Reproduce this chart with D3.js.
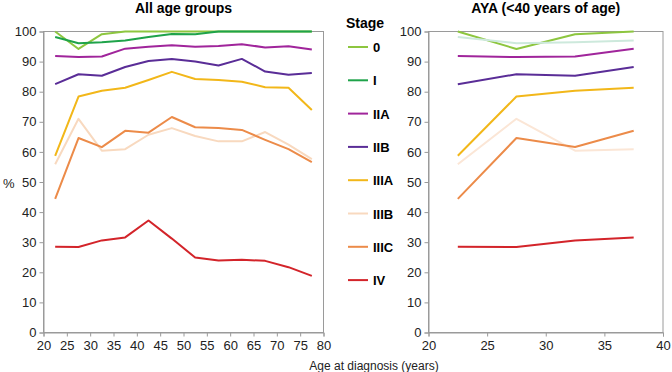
<!DOCTYPE html>
<html>
<head>
<meta charset="utf-8">
<script src="https://cdn.jsdelivr.net/npm/d3@7"></script>
<style>
body { margin: 0; background: #fff; }
svg { font-family: "Liberation Sans", Arial, sans-serif; }
</style>
</head>
<body>
<div id="chart"></div>
<script>
const ages = [22.5, 27.5, 32.5, 37.5, 42.5, 47.5, 52.5, 57.5, 62.5, 67.5, 72.5, 77.5];
const stages = ["0", "I", "IIA", "IIB", "IIIA", "IIIB", "IIIC", "IV"];
const colors = ["#8dc63f", "#1fa34a", "#a0259b", "#5a2d97", "#f2b719", "#f8d9bf", "#ec8b49", "#d3242a"];
// right panel shows stage I faded
const ayaColors = ["#8dc63f", "#cde9dc", "#a0259b", "#5a2d97", "#f2b719", "#fbe6d6", "#ec8b49", "#d3242a"];

const stage0 = [100, 94.2, 99.1, 100, 100, 100, 100, 100, 100, 100, 100, 100];
const stageI = [98.2, 96.1, 96.4, 97.0, 98.2, 99.2, 99.1, 100, 100, 100, 100, 100];
const stageIIA = [91.9, 91.5, 91.7, 94.3, 94.9, 95.4, 94.9, 95.2, 95.8, 94.7, 95.1, 94.0];
const stageIIB = [82.5, 85.8, 85.3, 88.2, 90.2, 90.9, 90.0, 88.7, 90.9, 86.7, 85.6, 86.2];
const stageIIIA = [58.7, 78.4, 80.3, 81.3, 83.9, 86.6, 84.2, 83.9, 83.3, 81.5, 81.3, 73.9];
const stageIIIB = [55.9, 71.0, 60.4, 60.9, 65.7, 67.9, 65.3, 63.5, 63.5, 66.6, 62.4, 57.6];
const stageIIIC = [44.4, 64.6, 61.6, 67.0, 66.4, 71.6, 68.2, 67.9, 67.3, 64.0, 60.9, 56.6];
const stageIV = [28.5, 28.4, 30.6, 31.6, 37.2, 31.2, 24.9, 23.9, 24.2, 23.8, 21.7, 18.8];
const series = [stage0, stageI, stageIIA, stageIIB, stageIIIA, stageIIIB, stageIIIC, stageIV];

const yTicks = [0, 10, 20, 30, 40, 50, 60, 70, 80, 90, 100];
const xTicksAll = [20, 25, 30, 35, 40, 45, 50, 55, 60, 65, 70, 75, 80];
const xTicksAya = [20, 25, 30, 35, 40];

const W = 672, H = 372;
const svg = d3.select("#chart").append("svg").attr("width", W).attr("height", H);

const y = d3.scaleLinear().domain([0, 100]).range([332.5, 31.5]);

function panel(x0, x1, domain, ticks, title, maxAge, cols) {
    const x = d3.scaleLinear().domain(domain).range([x0, x1]);
    const g = svg.append("g");
    // frame
    g.append("rect")
        .attr("x", x0).attr("y", y(100))
        .attr("width", x1 - x0).attr("height", y(0) - y(100))
        .attr("fill", "none").attr("stroke", "#9a9a9a").attr("stroke-width", 1);

    const ya = g.append("g").attr("transform", "translate(" + x0 + ",0)")
        .call(d3.axisLeft(y).tickValues(yTicks).tickSize(4).tickPadding(3));
    const xa = g.append("g").attr("transform", "translate(0," + y(0) + ")")
        .call(d3.axisBottom(x).tickValues(ticks).tickSize(4).tickPadding(4));
    [ya, xa].forEach(a => {
        a.select(".domain").attr("stroke", "#9a9a9a");
        a.selectAll(".tick line").attr("stroke", "#9a9a9a");
        a.selectAll("text").attr("font-size", 13).attr("fill", "#222");
    });

    const line = d3.line().x(d => x(d[0])).y(d => y(d[1]));
    const n = ages.filter(a => a < maxAge).length;
    series.forEach((s, i) => {
        const pts = ages.slice(0, n).map((a, j) => [a, s[j]]);
        g.append("path").datum(pts)
            .attr("d", line)
            .attr("fill", "none")
            .attr("stroke", cols[i])
            .attr("stroke-width", 2)
            .attr("stroke-linejoin", "round");
    });

    svg.append("text")
        .attr("x", (x0 + x1) / 2).attr("y", 13)
        .attr("text-anchor", "middle")
        .attr("font-size", 14).attr("font-weight", "bold")
        .text(title);
}

panel(43.5, 323.5, [20, 80], xTicksAll, "All age groups", 80, colors);
panel(428.5, 663, [20, 40], xTicksAya, "AYA (<40 years of age)", 40, ayaColors);

// legend
svg.append("text").attr("x", 346).attr("y", 28)
    .attr("font-size", 14).attr("font-weight", "bold").text("Stage");
stages.forEach((s, i) => {
    const ly = 47 + i * 33.3;
    svg.append("line").attr("x1", 348).attr("x2", 368).attr("y1", ly).attr("y2", ly)
        .attr("stroke", colors[i]).attr("stroke-width", 2);
    svg.append("text").attr("x", 373).attr("y", ly + 5)
        .attr("font-size", 13).attr("font-weight", "bold").text(s);
});

svg.append("text").attr("x", 3).attr("y", 188).attr("font-size", 13).attr("fill", "#222").text("%");
svg.append("text").attr("x", 374).attr("y", 370).attr("text-anchor", "middle")
    .attr("font-size", 12).attr("fill", "#222").text("Age at diagnosis (years)");
</script>
</body>
</html>
